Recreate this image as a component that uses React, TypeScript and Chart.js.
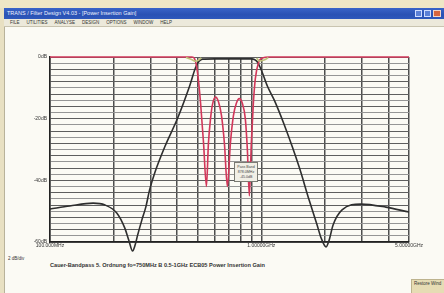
import React, { useEffect, useRef } from "react";
import { Chart, registerables } from "chart.js";

Chart.register(...registerables);

// ---- data (frequency in MHz, level in dB) ----
const s21Freq = [100, 124, 160, 182, 207, 226, 236, 246, 252, 260, 272, 284, 296, 313, 349, 402, 458, 494, 527, 600, 700, 800, 900, 927, 958, 1000, 1068, 1152, 1284, 1511, 1684, 1837, 1919, 2026, 2094, 2186, 2411, 2963, 3887, 5000];
const s21Db = [-49.3, -48.3, -47.4, -48.0, -50.6, -55.5, -59.4, -62.9, -61.3, -57.7, -52.9, -48.7, -43.1, -37.6, -29.2, -19.8, -9.4, -2.6, -0.7, -0.6, -0.6, -0.6, -0.6, -0.8, -1.6, -4.2, -9.4, -14.0, -22.0, -35.7, -46.4, -54.5, -58.7, -61.6, -59.4, -54.5, -49.6, -47.7, -48.7, -50.3];

const s11Freq = [100, 470, 483, 499, 516, 533, 550, 562, 575, 587, 607, 627, 648, 669, 691, 714, 738, 762, 787, 813, 840, 859, 878, 897, 917, 937, 968, 1011, 1090, 5000];
const s11Db = [0, 0, -0.5, -5, -15, -28, -42, -28, -20, -15.5, -13, -14.5, -19, -28, -42, -28, -19, -15, -13.5, -15, -20, -30, -45, -28, -15, -7, -2, -0.3, 0, 0];

const edgeFreq = [440, 470, 490, 505, 520, 540, 930, 950, 980, 1030, 1080];
const edgeDb = [-0.2, -0.9, -1.4, -1.0, -0.3, null, null, -0.3, -1.3, -1.0, -0.2];

const xTickValues = [100, 200, 300, 400, 500, 600, 700, 800, 900, 1000, 2000, 3000, 4000, 5000];
const xTickLabels: Record<number, string> = { 100: "100.000MHz", 1000: "1.00000GHz", 5000: "5.00000GHz" };
const yLabelEvery = 20;

const titleText = "TRANS / Filter Design V4.03 - [Power Insertion Gain]";
const menuItems = ["FILE", "UTILITIES", "ANALYSE", "DESIGN", "OPTIONS", "WINDOW", "HELP"];
const captionText = "Cauer-Bandpass 5. Ordnung  fo=750MHz  B 0.5-1GHz ECB05 Power Insertion Gain";
const scaleNote = "2 dB/div";
const markerLines = ["Pass Band", "878.0MHz", "-45.0dB"];

const toXY = (fs: number[], ds: (number | null)[]) => fs.map((f, i) => ({ x: f, y: ds[i] }));

export default function App() {
  const ref = useRef<HTMLCanvasElement>(null);

  useEffect(() => {
    document.body.style.margin = "0";
    const canvas = ref.current!;
    const chart = new Chart(canvas, {
      type: "line",
      data: {
        datasets: [
          {
            data: toXY(edgeFreq, edgeDb) as any,
            borderColor: "#bfc27a",
            borderWidth: 1.6,
            pointRadius: 0,
            spanGaps: false,
            cubicInterpolationMode: "monotone",
            clip: false as any,
          },
          {
            data: toXY(s11Freq, s11Db) as any,
            borderColor: "#d2375a",
            borderWidth: 1.6,
            pointRadius: 0,
            cubicInterpolationMode: "monotone",
            clip: false as any,
          },
          {
            data: toXY(s21Freq, s21Db) as any,
            borderColor: "#2e2e2e",
            borderWidth: 1.6,
            pointRadius: 0,
            cubicInterpolationMode: "monotone",
            clip: false as any,
          },
        ],
      },
      options: {
        responsive: false,
        animation: false,
        devicePixelRatio: 1,
        layout: { padding: { left: 8, top: 57, right: 35, bottom: 39 } },
        plugins: { legend: { display: false }, tooltip: { enabled: false } },
        scales: {
          x: {
            type: "logarithmic",
            min: 100,
            max: 5000,
            afterBuildTicks: (scale: any) => {
              scale.ticks = xTickValues.map((v) => ({ value: v }));
            },
            afterFit: (scale: any) => {
              scale.height = 12;
            },
            ticks: {
              autoSkip: false,
              maxRotation: 0,
              padding: 1,
              color: "#333",
              font: { family: "Liberation Sans", size: 5 },
              callback: (v: any) => xTickLabels[Number(v)] ?? "",
            },
            grid: { color: "#4e4e4e", lineWidth: 1.5, drawTicks: false },
            border: { color: "#222", width: 1.5 },
          },
          y: {
            type: "linear",
            min: -60,
            max: 0,
            afterFit: (scale: any) => {
              scale.width = 42;
            },
            ticks: {
              stepSize: 2,
              autoSkip: false,
              padding: 3,
              color: "#333",
              font: { family: "Liberation Sans", size: 5 },
              callback: (v: any) => (Number(v) % yLabelEvery === 0 ? `${Number(v) === 0 ? 0 : v}dB` : ""),
            },
            grid: {
              color: (c: any) => (Math.round(c.tick.value) % 4 === 0 ? "#5e5e5e" : "#959595"),
              lineWidth: 1,
              drawTicks: false,
            },
            border: { color: "#222", width: 1.5 },
          },
        },
      },
    });
    return () => chart.destroy();
  }, []);

  return (
    <div style={{ position: "fixed", left: 0, top: 0, width: 444, height: 293, overflow: "hidden", background: "#fbfaf4", fontFamily: "Liberation Sans, sans-serif" }}>
      <div style={{ position: "absolute", left: 0, top: 0, width: 444, height: 8, background: "#efe7c6" }} />
      <div style={{ position: "absolute", left: 0, top: 8, width: 4, height: 285, background: "#e8e0c2", borderRight: "1px solid #b8b29a" }} />
      <div style={{ position: "absolute", left: 4, top: 8, width: 440, height: 11, background: "linear-gradient(#3a64c8, #2a52b4 60%, #2e58bc)", color: "#eef2ff", fontSize: 5.5, lineHeight: "11px", paddingLeft: 3, boxSizing: "border-box", whiteSpace: "nowrap" }}>
        {titleText}
        <div style={{ position: "absolute", right: 22, top: 2, width: 7, height: 7, background: "#5b80d6", border: "1px solid #cfdcff", boxSizing: "border-box" }} />
        <div style={{ position: "absolute", right: 13, top: 2, width: 7, height: 7, background: "#5b80d6", border: "1px solid #cfdcff", boxSizing: "border-box" }} />
        <div style={{ position: "absolute", right: 3, top: 2, width: 8, height: 7, background: "#d8663e", border: "1px solid #f3d6c8", boxSizing: "border-box" }} />
      </div>
      <div style={{ position: "absolute", left: 4, top: 19, width: 440, height: 8, background: "#ece9db", borderBottom: "1px solid #c9c4b0", color: "#333", fontSize: 4.5, lineHeight: "8px", paddingLeft: 6, boxSizing: "border-box", whiteSpace: "nowrap" }}>
        {menuItems.map((m) => (
          <span key={m} style={{ marginRight: 7 }}>{m}</span>
        ))}
      </div>
      <div style={{ position: "absolute", left: 8, top: 256, fontSize: 4.5, color: "#333" }}>{scaleNote}</div>
      <div style={{ position: "absolute", left: 50, top: 262, fontSize: 5.6, fontWeight: "bold", color: "#333", whiteSpace: "nowrap" }}>{captionText}</div>
      <div style={{ position: "absolute", left: 411, top: 279, width: 36, height: 14, background: "#e6dcb4", borderTop: "1px solid #bdb38e", borderLeft: "1px solid #bdb38e", fontSize: 4.5, color: "#333", paddingLeft: 2, boxSizing: "border-box", lineHeight: "7px" }}>Restore Wind</div>
      <canvas ref={ref} width={444} height={293} style={{ position: "absolute", left: 0, top: 0 }} />
      <div style={{ position: "absolute", left: 234, top: 162, width: 24, height: 20, background: "#f1efe6", border: "1px solid #7a7a72", boxSizing: "border-box", fontSize: 3.6, lineHeight: "5px", color: "#444", textAlign: "center", paddingTop: 2 }}>
        {markerLines.map((t) => (
          <div key={t}>{t}</div>
        ))}
      </div>
    </div>
  );
}
